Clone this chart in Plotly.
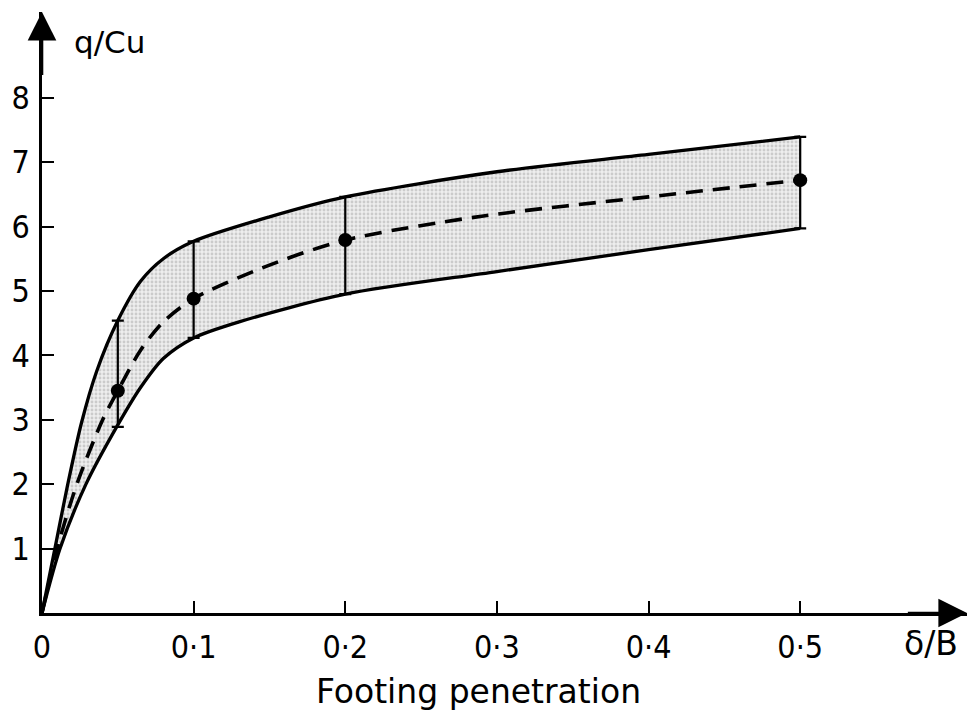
import plotly.graph_objects as go

# ---- data ----
upper_x = [0, 0.0085, 0.017, 0.026, 0.036, 0.05, 0.065, 0.08, 0.1, 0.15, 0.2, 0.3, 0.4, 0.5]
upper_y = [0, 1.0, 2.0, 2.95, 3.75, 4.54, 5.15, 5.50, 5.77, 6.15, 6.46, 6.85, 7.12, 7.39]

lower_x = [0, 0.0119, 0.029, 0.05, 0.065, 0.08, 0.1, 0.13, 0.2, 0.3, 0.4, 0.5]
lower_y = [0, 1.0, 2.0, 2.92, 3.50, 3.95, 4.27, 4.52, 4.95, 5.30, 5.64, 5.97]

mid_x = [0, 0.010, 0.023, 0.040, 0.05, 0.065, 0.08, 0.1, 0.15, 0.2, 0.29, 0.4, 0.5]
mid_y = [0, 1.0, 2.0, 3.0, 3.45, 4.08, 4.52, 4.88, 5.40, 5.79, 6.16, 6.46, 6.72]

pt_x = [0.05, 0.1, 0.2, 0.5]
pt_y = [3.45, 4.88, 5.79, 6.72]
pt_hi = [4.54, 5.77, 6.46, 7.39]
pt_lo = [2.89, 4.27, 4.95, 5.97]

x_ticks = [0, 0.1, 0.2, 0.3, 0.4, 0.5]
x_labels = ["0", "0·1", "0·2", "0·3", "0·4", "0·5"]
y_ticks = [1, 2, 3, 4, 5, 6, 7, 8]
y_labels = ["1", "2", "3", "4", "5", "6", "7", "8"]

FONT_T = "DejaVu Sans Condensed, DejaVu Sans, sans-serif"
FONT = "DejaVu Sans, sans-serif"
X_MAX = 0.610
Y_MAX = 9.33
SM = 0.8

fig = go.Figure()

fig.add_trace(go.Scatter(
    x=upper_x, y=upper_y, mode="lines",
    line=dict(color="black", width=3.3, shape="spline", smoothing=SM),
    cliponaxis=False, showlegend=False, hoverinfo="skip"))
fig.add_trace(go.Scatter(
    x=lower_x, y=lower_y, mode="lines", fill="tonexty",
    fillcolor="#e4e4e4",
    fillpattern=dict(shape=".", fgcolor="#a8a8a8", bgcolor="#eeeeee", size=4, solidity=0.4),
    line=dict(color="black", width=3.3, shape="spline", smoothing=SM),
    cliponaxis=False, showlegend=False, hoverinfo="skip"))
fig.add_trace(go.Scatter(
    x=mid_x, y=mid_y, mode="lines",
    line=dict(color="black", width=3.6, dash="17px,10px", shape="spline", smoothing=SM),
    cliponaxis=False, showlegend=False, hoverinfo="skip"))
fig.add_trace(go.Scatter(
    x=pt_x, y=pt_y, mode="markers",
    marker=dict(color="black", size=14),
    error_y=dict(type="data", symmetric=False,
                 array=[h - v for h, v in zip(pt_hi, pt_y)],
                 arrayminus=[v - l for l, v in zip(pt_lo, pt_y)],
                 color="black", thickness=2.2, width=6),
    cliponaxis=False, showlegend=False, hoverinfo="skip"))

axis_common = dict(showgrid=False, zeroline=False, showline=True, linecolor="black",
                   linewidth=2.6, ticks="inside", ticklen=12, tickwidth=2, tickcolor="black",
                   tickfont=dict(family=FONT_T, size=32, color="black"))

fig.update_layout(
    width=969, height=726,
    margin=dict(l=42, r=2, t=12, b=113),
    paper_bgcolor="white", plot_bgcolor="white",
    xaxis=dict(range=[0, X_MAX], tickvals=x_ticks, ticktext=x_labels,
               ticklabelstandoff=4, **axis_common),
    yaxis=dict(range=[0, Y_MAX], tickvals=y_ticks, ticktext=y_labels,
               ticklabelstandoff=3, **axis_common),
    annotations=[
        dict(x=X_MAX, y=0, ax=X_MAX - 0.04, ay=0, xref="x", yref="y", axref="x", ayref="y",
             showarrow=True, arrowhead=2, arrowsize=2.2, arrowwidth=2.6, arrowcolor="black", text=""),
        dict(x=0, y=Y_MAX, ax=0, ay=Y_MAX - 1.0, xref="x", yref="y", axref="x", ayref="y",
             showarrow=True, arrowhead=2, arrowsize=2.2, arrowwidth=2.6, arrowcolor="black", text=""),
        dict(x=0.0324, y=0.950, xref="paper", yref="paper", xanchor="left", yanchor="middle",
             text="q/Cu", showarrow=False, font=dict(family=FONT, size=31, color="black")),
        dict(x=0.961, y=-0.050, xref="paper", yref="paper", xanchor="center", yanchor="middle",
             text="δ/B", showarrow=False, font=dict(family=FONT, size=33, color="black")),
        dict(x=0.4724, y=-0.131, xref="paper", yref="paper", xanchor="center", yanchor="middle",
             text="Footing penetration", showarrow=False, font=dict(family=FONT, size=33, color="black")),
    ],
)

fig.write_html("out.html")
